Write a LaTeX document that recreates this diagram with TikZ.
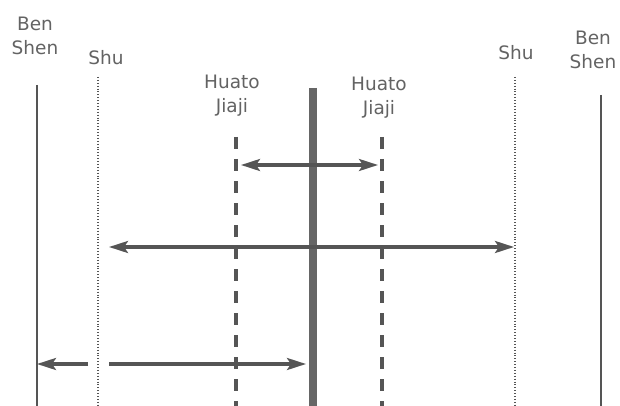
\documentclass[tikz,border=0pt]{standalone}
\usepackage{fontspec}
\setmainfont{DejaVu Sans}
\usetikzlibrary{arrows.meta}
\definecolor{ink}{HTML}{555555}
\definecolor{lab}{HTML}{636363}
\begin{document}
\begin{tikzpicture}[x=1pt,y=-1pt,
  lbl/.style={text=lab,font=\fontsize{18.5}{23.5}\selectfont,align=center,inner sep=0pt,anchor=north},
  benline/.style={draw=ink,line width=2pt},
  shuline/.style={draw=ink,line width=1.3pt,dash pattern=on 0.9pt off 2pt},
  huatoline/.style={draw=ink,line width=3.5pt,dash pattern=on 12pt off 10pt},
  midline/.style={draw=ink!90,line width=8pt},
  arr/.style={draw=ink,line width=3.2pt,-{Stealth[length=19pt,width=12pt,inset=4pt]}},
  darr/.style={draw=ink,line width=3.2pt,{Stealth[length=19pt,width=12pt,inset=4pt]}-{Stealth[length=19pt,width=12pt,inset=4pt]}}]
\useasboundingbox (0,0) rectangle (620,406);
% labels
\node[lbl] (bsl) at (35,17) {Ben\\Shen};
\node[lbl] (shl) at (106,50) {Shu};
\node[lbl] (hjl) at (232,75) {Huato\\Jiaji};
\node[lbl] (hjr) at (379,77) {Huato\\Jiaji};
\node[lbl] (shr) at (516,45) {Shu};
\node[lbl] (bsr) at (593,31) {Ben\\Shen};
% line ends
\coordinate (bl1) at (37,85);  \coordinate (bl2) at (37,406);
\coordinate (sl1) at (98,77);  \coordinate (sl2) at (98,406);
\coordinate (hl1) at (236,137); \coordinate (hl2) at (236,406);
\coordinate (m1) at (313,88);  \coordinate (m2) at (313,406);
\coordinate (hr1) at (382,137); \coordinate (hr2) at (382,406);
\coordinate (sr1) at (515,77); \coordinate (sr2) at (515,406);
\coordinate (br1) at (601,95); \coordinate (br2) at (601,406);
% vertical lines
\draw[benline] (bl1) -- (bl2);
\draw[benline] (br1) -- (br2);
\draw[shuline] (sl1) -- (sl2);
\draw[shuline] (sr1) -- (sr2);
\draw[huatoline] (hl1) -- (hl2);
\draw[huatoline] (hr1) -- (hr2);
\draw[midline] (m1) -- (m2);
% arrows
\coordinate (a1l) at (241,165); \coordinate (a1r) at (378,165);
\coordinate (a2l) at (109,247); \coordinate (a2r) at (514,247);
\coordinate (a3s) at (88,364);  \coordinate (a3e) at (37,364);
\coordinate (a4s) at (109,364); \coordinate (a4e) at (306,364);
\draw[darr] (a1l) -- (a1r);
\draw[darr] (a2l) -- (a2r);
\draw[arr] (a3s) -- (a3e);
\draw[arr] (a4s) -- (a4e);
\end{tikzpicture}
\end{document}
